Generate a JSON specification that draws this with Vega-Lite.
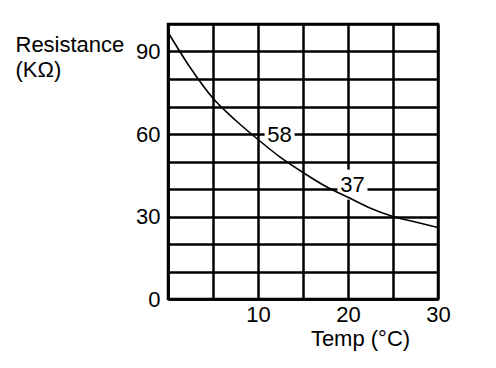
{
  "$schema": "https://vega.github.io/schema/vega-lite/v6.json",
  "autosize": {"type": "none"},
  "padding": {"left": 168, "top": 24, "right": 58, "bottom": 69},
  "width": 270,
  "height": 275,
  "background": "white",
  "config": {
    "view": {"stroke": "black", "strokeWidth": 2.5},
    "font": "Liberation Sans",
    "axis": {
      "grid": true,
      "gridColor": "black",
      "gridWidth": 2.5,
      "gridOpacity": 1,
      "domainColor": "black",
      "domainWidth": 2.5,
      "ticks": false,
      "labelOverlap": false,
      "labelFlush": false,
      "labelFont": "Liberation Sans",
      "labelFontSize": 22,
      "labelColor": "black",
      "titleFont": "Liberation Sans",
      "titleFontSize": 22,
      "titleFontWeight": "normal",
      "titleColor": "black"
    }
  },
  "datasets": {
    "curve": [
      {"temp": 0, "resistance": 97},
      {"temp": 2.5, "resistance": 84},
      {"temp": 5, "resistance": 73},
      {"temp": 7.5, "resistance": 65},
      {"temp": 10, "resistance": 58},
      {"temp": 12.5, "resistance": 51.5},
      {"temp": 15, "resistance": 46},
      {"temp": 17.5, "resistance": 41},
      {"temp": 20, "resistance": 37},
      {"temp": 22.5, "resistance": 33},
      {"temp": 25, "resistance": 30},
      {"temp": 27.5, "resistance": 28},
      {"temp": 30, "resistance": 26}
    ],
    "labels": [
      {"temp": 12.4, "resistance": 59.8, "label": "58"},
      {"temp": 20.5, "resistance": 41.6, "label": "37"}
    ]
  },
  "encoding": {
    "x": {
      "field": "temp", "type": "quantitative",
      "scale": {"domain": [0, 30], "nice": false, "zero": false},
      "axis": {
        "values": [0, 5, 10, 15, 20, 25, 30],
        "labelExpr": "datum.value % 10 == 0 && datum.value > 0 ? datum.label : ''",
        "labelPadding": 5,
        "title": "Temp (°C)",
        "titleX": 192,
        "titleY": 46,
        "titleAlign": "center",
        "titleBaseline": "alphabetic"
      }
    },
    "y": {
      "field": "resistance", "type": "quantitative",
      "scale": {"domain": [0, 100], "nice": false, "zero": true},
      "axis": {
        "values": [0, 10, 20, 30, 40, 50, 60, 70, 80, 90, 100],
        "labelExpr": "datum.value % 30 == 0 ? datum.label : ''",
        "labelPadding": 8,
        "title": ["Resistance", "(KΩ)"],
        "titleAngle": 0,
        "titleX": -153,
        "titleY": 27,
        "titleAlign": "left",
        "titleBaseline": "alphabetic",
        "titleLineHeight": 25
      }
    }
  },
  "layer": [
    {
      "data": {"name": "labels"},
      "mark": {"type": "square", "size": 900, "color": "white", "filled": true, "opacity": 1}
    },
    {
      "data": {"name": "curve"},
      "mark": {"type": "line", "color": "black", "strokeWidth": 1.6, "interpolate": "monotone"}
    },
    {
      "data": {"name": "labels"},
      "mark": {"type": "text", "font": "Liberation Sans", "fontSize": 22, "color": "black", "baseline": "middle", "align": "center"},
      "encoding": {
        "text": {"field": "label"}
      }
    }
  ]
}
